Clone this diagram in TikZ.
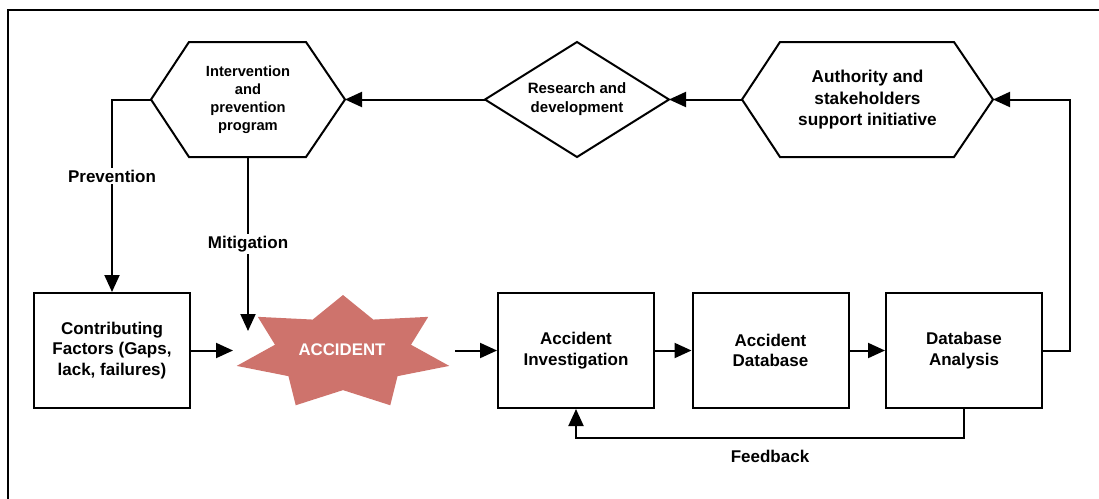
\documentclass[tikz,border=0pt]{standalone}
\usepackage{fontspec}
\setmainfont{Liberation Sans}
\usetikzlibrary{arrows.meta}
\definecolor{accred}{RGB}{206,115,108}

\begin{document}
\begin{tikzpicture}[x=1pt, y=-1pt, line width=2pt,
  arr/.style={-{Triangle[length=17pt,width=15pt]}},
  txt/.style 2 args={align=center, inner sep=0pt, font=\fontsize{#1}{#2}\selectfont\bfseries},
  box/.style={draw, line width=2pt, minimum width=156pt, minimum height=115pt,
              align=center, font=\fontsize{17}{20.5}\selectfont\bfseries},
  lbl/.style={fill=white, inner sep=2pt, font=\fontsize{17}{20}\selectfont\bfseries}]

\useasboundingbox (0,0) rectangle (1099,498);
\clip (0,0) rectangle (1099,498);

% outer frame
\draw (8,10) rectangle (1130,530);

% top row: intervention hexagon, R&D diamond, authority hexagon
\coordinate (ipW)  at (151,99.5);
\coordinate (ipE)  at (345,99.5);
\coordinate (ipS)  at (248,157);
\draw (ipW) -- (189,42) -- (306,42) -- (ipE) -- (306,157) -- (189,157) -- cycle;
\node[txt={14.7}{18}] (ip) at (248,99.5) {Intervention\\and\\prevention\\program};

\coordinate (rdW) at (485,99.5);
\coordinate (rdE) at (669,99.5);
\draw (rdW) -- (577,42) -- (rdE) -- (577,157) -- cycle;
\node[txt={15}{19}] (rd) at (577,99.5) {Research and\\development};

\coordinate (auW) at (742,99.5);
\coordinate (auE) at (993,99.5);
\draw (auW) -- (780,42) -- (954,42) -- (auE) -- (954,157) -- (780,157) -- cycle;
\node[txt={17.2}{21.5}] (au) at (867.5,100) {Authority and\\stakeholders\\support initiative};

% bottom row boxes
\node[box] (cf) at (112,350.5) {Contributing\\Factors (Gaps,\\lack, failures)};
\node[box] (ai) at (576,350.5) {Accident\\Investigation};
\node[box] (ad) at (770.5,350.5) {Accident\\Database};
\node[box] (da) at (964,350.5) {Database\\Analysis};

% accident starburst
\begin{scope}[shift={(343,353)}, xscale=109, yscale=58]
  \fill[accred] (-90:1)
    \foreach \i in {1,...,13} { -- ({-90+\i*180/7}:{mod(\i,2)==1 ? 0.64 : 1}) } -- cycle;
\end{scope}
\node[txt={16.8}{20}, text=white] (acc) at (342,350) {ACCIDENT};
\coordinate (accL) at (233,350.5);
\coordinate (accR) at (455,350.5);
\coordinate (accT) at (248,331);

% connectors
\draw[arr] (auW) -- (rdE);
\draw[arr] (rdW) -- (ipE);
\draw[arr] (ipW) -| (cf.north);
\draw[arr] (ipS) -- (accT);
\draw[arr] (cf.east) -- (accL);
\draw[arr] (accR) -- (ai.west);
\draw[arr] (ai.east) -- (ad.west);
\draw[arr] (ad.east) -- (da.west);
\coordinate (ret) at (1070,99.5);
\draw[arr] (da.east) -| (ret) -- (auE);
\draw[arr] (da.south) -- ++(0,29) -| (ai.south);

% connector labels
\node[lbl] (prev) at (112,176) {Prevention};
\node[lbl] (miti) at (248,244) {Mitigation};
\node[txt={17}{20}] (fb) at (770,456) {Feedback};
\end{tikzpicture}
\end{document}
